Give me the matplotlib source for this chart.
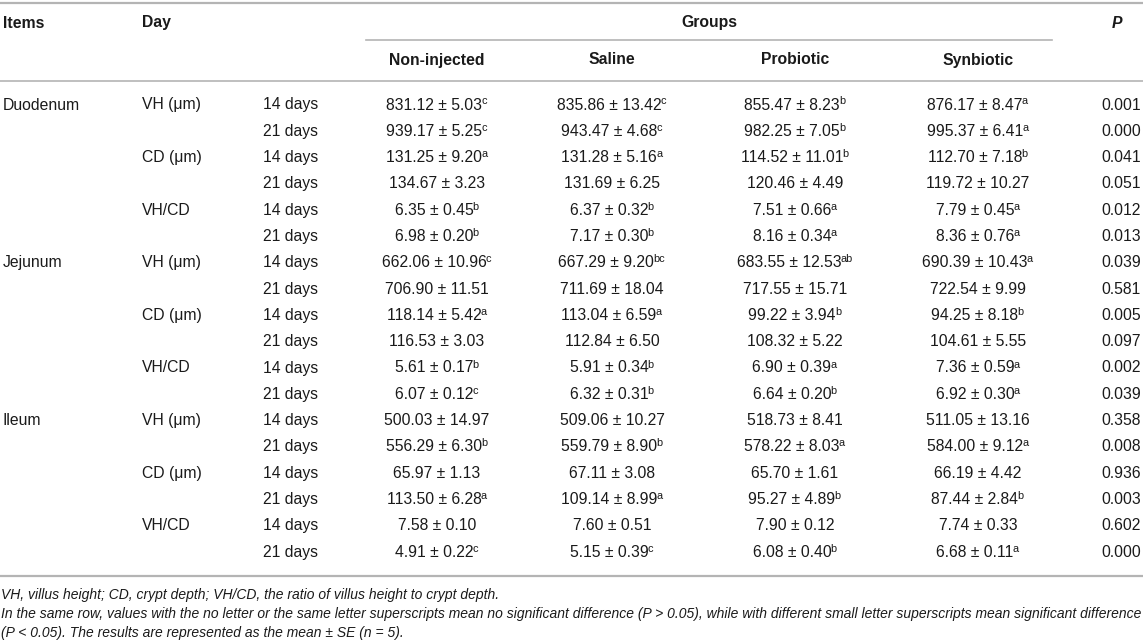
import matplotlib
matplotlib.use("Agg")
import matplotlib.pyplot as plt

plt.rcParams['font.family'] = ['Liberation Sans', 'DejaVu Sans']

# table data
segments = ['Duodenum', 'Jejunum', 'Ileum']
measures = ['VH (\u03bcm)', 'CD (\u03bcm)', 'VH/CD']
days = ['14 days', '21 days']
groups = ['Non-injected', 'Saline', 'Probiotic', 'Synbiotic']

noninj_mean = [831.12, 939.17, 131.25, 134.67, 6.35, 6.98, 662.06, 706.90, 118.14,
               116.53, 5.61, 6.07, 500.03, 556.29, 65.97, 113.50, 7.58, 4.91]
noninj_se = [5.03, 5.25, 9.20, 3.23, 0.45, 0.20, 10.96, 11.51, 5.42,
             3.03, 0.17, 0.12, 14.97, 6.30, 1.13, 6.28, 0.10, 0.22]
noninj_sup = ['c', 'c', 'a', '', 'b', 'b', 'c', '', 'a', '', 'b', 'c', '', 'b', '', 'a', '', 'c']

saline_mean = [835.86, 943.47, 131.28, 131.69, 6.37, 7.17, 667.29, 711.69, 113.04,
               112.84, 5.91, 6.32, 509.06, 559.79, 67.11, 109.14, 7.60, 5.15]
saline_se = [13.42, 4.68, 5.16, 6.25, 0.32, 0.30, 9.20, 18.04, 6.59,
             6.50, 0.34, 0.31, 10.27, 8.90, 3.08, 8.99, 0.51, 0.39]
saline_sup = ['c', 'c', 'a', '', 'b', 'b', 'bc', '', 'a', '', 'b', 'b', '', 'b', '', 'a', '', 'c']

probio_mean = [855.47, 982.25, 114.52, 120.46, 7.51, 8.16, 683.55, 717.55, 99.22,
               108.32, 6.90, 6.64, 518.73, 578.22, 65.70, 95.27, 7.90, 6.08]
probio_se = [8.23, 7.05, 11.01, 4.49, 0.66, 0.34, 12.53, 15.71, 3.94,
             5.22, 0.39, 0.20, 8.41, 8.03, 1.61, 4.89, 0.12, 0.40]
probio_sup = ['b', 'b', 'b', '', 'a', 'a', 'ab', '', 'b', '', 'a', 'b', '', 'a', '', 'b', '', 'b']

synbio_mean = [876.17, 995.37, 112.70, 119.72, 7.79, 8.36, 690.39, 722.54, 94.25,
               104.61, 7.36, 6.92, 511.05, 584.00, 66.19, 87.44, 7.74, 6.68]
synbio_se = [8.47, 6.41, 7.18, 10.27, 0.45, 0.76, 10.43, 9.99, 8.18,
             5.55, 0.59, 0.30, 13.16, 9.12, 4.42, 2.84, 0.33, 0.11]
synbio_sup = ['a', 'a', 'b', '', 'a', 'a', 'a', '', 'b', '', 'a', 'a', '', 'a', '', 'b', '', 'a']

p_values = ['0.001', '0.000', '0.041', '0.051', '0.012', '0.013', '0.039', '0.581', '0.005',
            '0.097', '0.002', '0.039', '0.358', '0.008', '0.936', '0.003', '0.602', '0.000']

footnotes = [
    'VH, villus height; CD, crypt depth; VH/CD, the ratio of villus height to crypt depth.',
    'In the same row, values with the no letter or the same letter superscripts mean no significant '
    'difference (P > 0.05), while with different small letter superscripts mean significant difference',
    '(P < 0.05). The results are represented as the mean \u00b1 SE (n = 5).',
]

W, H = 1143, 641
fig = plt.figure(figsize=(W / 100, H / 100), dpi=100)
ax = fig.add_axes([0, 0, 1, 1])
ax.set_xlim(0, W)
ax.set_ylim(H, 0)
ax.axis('off')
renderer = fig.canvas.get_renderer()

txt = '#1a1a1a'
rule = '#b4b4b4'
fs = 11.3
sup_fs = 7.9
base = 5.5  # baseline offset below row centre

col_items, col_day, col_days = 3, 142, 263
group_x = [437, 612, 795, 978]
p_x = 1121
row0, row_h = 104, 26.3

# rules
ax.plot([0, W], [3, 3], color=rule, lw=1.6)
ax.plot([366, 1052], [40, 40], color=rule, lw=1.2)
ax.plot([0, W], [80.5, 80.5], color=rule, lw=1.2)
ax.plot([0, W], [576, 576], color=rule, lw=1.6)

# header
hy = 22 + base
ax.text(col_items, hy, 'Items', fontsize=fs, fontweight='bold', color=txt, va='baseline')
ax.text(col_day, hy, 'Day', fontsize=fs, fontweight='bold', color=txt, va='baseline')
ax.text((366 + 1052) / 2, hy, 'Groups', fontsize=fs, fontweight='bold', color=txt,
        va='baseline', ha='center')
ax.text(p_x - 4, hy, 'P', fontsize=fs, fontweight='bold', fontstyle='italic', color=txt,
        va='baseline', ha='center')
for gx, g in zip(group_x, groups):
    ax.text(gx, 59 + base, g, fontsize=fs, fontweight='bold', color=txt,
            va='baseline', ha='center')


def value_cell(x, y, main, sup):
    t = ax.text(x, y, main, fontsize=fs, color=txt, va='baseline', ha='left')
    wm = t.get_window_extent(renderer).width
    if not sup:
        t.set_x(x - wm / 2)
        return
    s = ax.text(x, y - 5, sup, fontsize=sup_fs, color=txt, va='baseline', ha='left')
    ws = s.get_window_extent(renderer).width
    left = x - (wm + ws) / 2
    t.set_x(left)
    s.set_x(left + wm - 0.8)


# body
cols = [(noninj_mean, noninj_se, noninj_sup), (saline_mean, saline_se, saline_sup),
        (probio_mean, probio_se, probio_sup), (synbio_mean, synbio_se, synbio_sup)]
for i in range(len(p_values)):
    y = row0 + i * row_h + base
    if i % 6 == 0:
        ax.text(col_items, y, segments[i // 6], fontsize=fs, color=txt, va='baseline')
    if i % 2 == 0:
        ax.text(col_day, y, measures[(i // 2) % 3], fontsize=fs, color=txt, va='baseline')
    ax.text(col_days, y, days[i % 2], fontsize=fs, color=txt, va='baseline')
    for gx, (m, s, sup) in zip(group_x, cols):
        value_cell(gx, y, f'{m[i]:.2f} \u00b1 {s[i]:.2f}', sup[i])
    ax.text(p_x, y, p_values[i], fontsize=fs, color=txt, va='baseline', ha='center')

# footnotes
for k, line in enumerate(footnotes):
    ax.text(1, 594 + k * 19.5 + 4.5, line, fontsize=10.0, fontstyle='italic', color=txt,
            va='baseline')

fig.savefig('out.png', dpi=100)
